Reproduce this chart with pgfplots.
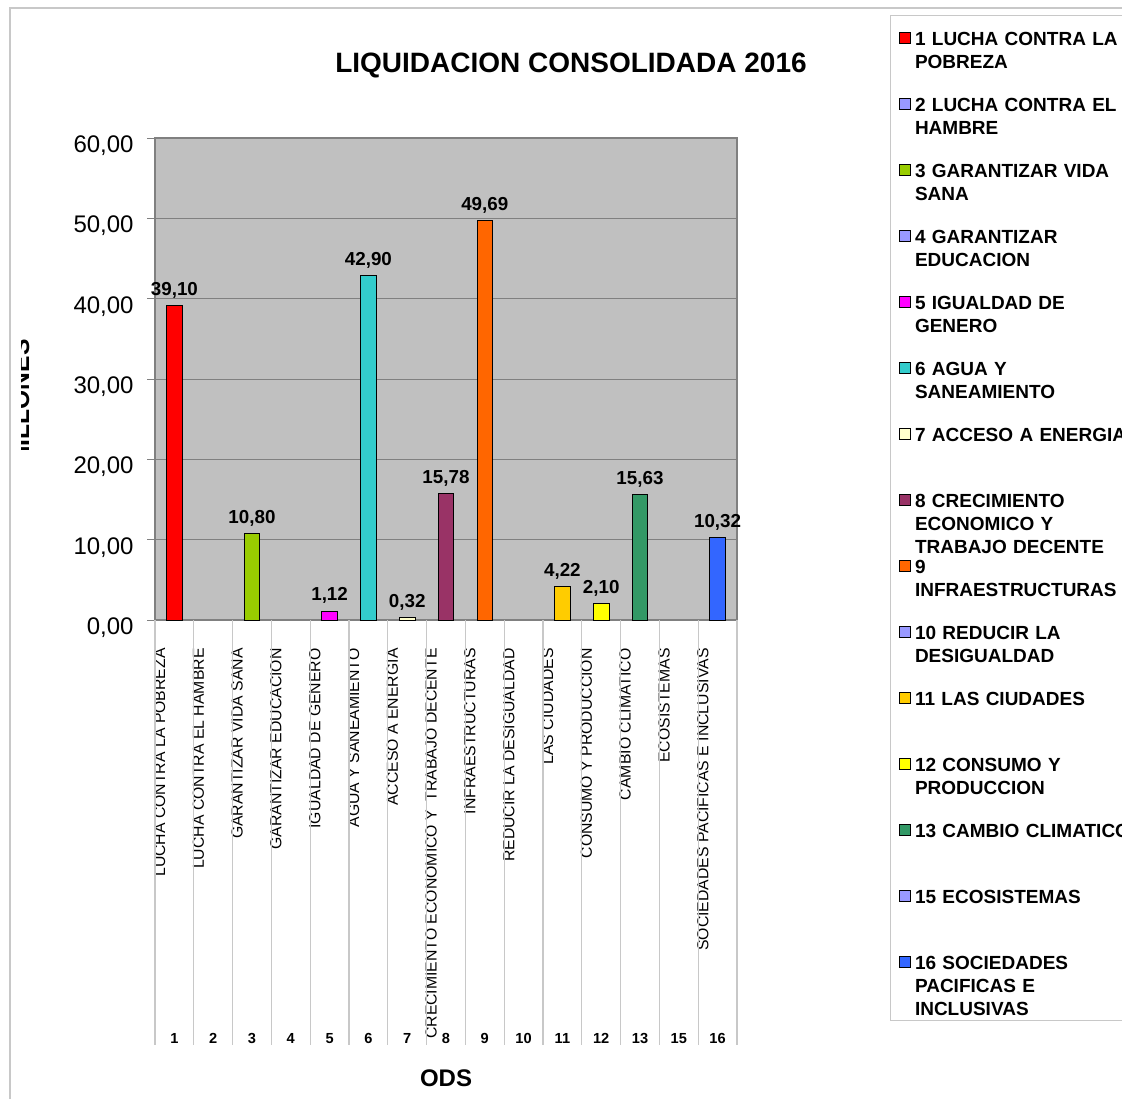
\documentclass[border=0pt]{standalone}
\usepackage{fontspec}
\setmainfont{Liberation Sans}
\usepackage{pgfplots}
\pgfplotsset{compat=1.18}
\pgfkeys{/pgf/number format/assume math mode=true}
\definecolor{c1}{HTML}{FF0000}
\definecolor{cz}{HTML}{9999FF}
\definecolor{c3}{HTML}{99CC00}
\definecolor{c5}{HTML}{FF00FF}
\definecolor{c6}{HTML}{33CCCC}
\definecolor{c7}{HTML}{FFFFCC}
\definecolor{c8}{HTML}{993366}
\definecolor{c9}{HTML}{FF6600}
\definecolor{c11}{HTML}{FFCC00}
\definecolor{c12}{HTML}{FFFF00}
\definecolor{c13}{HTML}{339966}
\definecolor{c16}{HTML}{3366FF}
\definecolor{bg}{HTML}{C0C0C0}
\definecolor{ax}{HTML}{808080}
\definecolor{sepc}{HTML}{C8C8C8}
\pgfplotsset{
  sq/.style={legend image code/.code={\draw[##1,draw=black,line width=0.5pt] (0pt,1pt) rectangle (5.5pt,6.5pt);}},
  b/.style={fill=#1, draw=black, line width=0.5pt, bar shift=0pt, sq},
}
\begin{document}
\begin{tikzpicture}[x=0.5pt,y=-0.5pt]
\useasboundingbox (0,0) rectangle (1122,1099);
\draw[sepc, line width=0.6pt] (10,1099) -- (10,8) -- (1122,8);
\node[anchor=base, inner sep=0pt, font=\bfseries\fontsize{14}{16}\selectfont] at (571,72) {LIQUIDACION CONSOLIDADA 2016};
\node[anchor=base, inner sep=0pt, font=\bfseries\fontsize{12}{14}\selectfont] at (446,1086) {ODS};
\begin{scope}
\clip (21,330) rectangle (40,449);
\node[rotate=90, anchor=base, inner sep=0pt, font=\bfseries\fontsize{12.3}{14}\selectfont] at (29,403) {MILLONES};
\end{scope}
\begin{axis}[
  at={(77.5pt,-310pt)}, anchor=south west,
  scale only axis, width=291pt, height=241pt,
  xmin=0.5, xmax=15.5, ymin=0, ymax=60,
  clip=false,
  axis background/.style={fill=bg},
  axis line style={ax, line width=0.6pt},
  ymajorgrids, major grid style={ax, line width=0.5pt},
  ytick={0,10,20,30,40,50,60},
  ytick align=outside, ytick pos=left, major tick length=4pt,
  ytick style={ax, line width=0.5pt},
  y tick label style={/pgf/number format/.cd, fixed, zerofill, precision=2, use comma, /tikz/.cd,
     font=\fontsize{12}{14}\selectfont, inner sep=0pt, xshift=-6.5pt, yshift=-3.8pt},
  xtick={0.62,1.62,2.62,3.62,4.62,5.62,6.62,7.62,8.62,9.62,10.62,11.62,12.62,13.62,14.62},
  xticklabels={LUCHA CONTRA LA POBREZA, LUCHA CONTRA EL HAMBRE, GARANTIZAR VIDA SANA,
    GARANTIZAR EDUCACION, IGUALDAD DE GENERO, AGUA Y SANEAMIENTO, ACCESO A ENERGIA,
    CRECIMIENTO ECONOMICO Y \ TRABAJO DECENTE, INFRAESTRUCTURAS, REDUCIR LA DESIGUALDAD,
    LAS CIUDADES, CONSUMO Y PRODUCCION, CAMBIO CLIMATICO, ECOSISTEMAS,
    SOCIEDADES PACIFICAS E INCLUSIVAS},
  xtick style={draw=none},
  x tick label style={rotate=90, anchor=east, inner sep=0pt, font=\fontsize{7.9}{9.6}\selectfont},
  xticklabel shift=10pt,
  ybar, bar width=7.8pt, bar shift=0pt,
  nodes near coords={\pgfmathprintnumber[fixed,zerofill,precision=2,use comma]{\pgfplotspointmeta}},
  every node near coord/.append style={font=\bfseries\fontsize{9.4}{11}\selectfont, black},
  legend style={at={(1.26289,1.25519)}, anchor=north west, draw=sepc, line width=0.6pt, fill=white,
    inner xsep=4pt, inner ysep=1.5pt, row sep=0pt, column sep=2.2pt,
    font=\bfseries\fontsize{9.5}{11.5}\selectfont,
    nodes={anchor=base west, align=left, text width=125pt, inner sep=0pt, text height=7pt, text depth=26pt}},
]
\pgfplotsinvokeforeach{0.5,1.5,2.5,3.5,4.5,5.5,6.5,7.5,8.5,9.5,10.5,11.5,12.5,13.5,14.5,15.5}{
  \draw[sepc, line width=0.6pt] (axis cs:#1,0) -- ++(0pt,-212.5pt);
}
\addplot[b=c1] coordinates {(1,39.10)};
\addlegendentry[text height=13.3pt]{1 LUCHA CONTRA LA\\POBREZA}
\addlegendimage{b=cz}
\addlegendentry{2 LUCHA CONTRA EL\\HAMBRE}
\addplot[b=c3] coordinates {(3,10.80)};
\addlegendentry{3 GARANTIZAR VIDA\\SANA}
\addlegendimage{b=cz}
\addlegendentry{4 GARANTIZAR\\EDUCACION}
\addplot[b=c5] coordinates {(5,1.12)};
\addlegendentry{5 IGUALDAD DE\\GENERO}
\addplot[b=c6] coordinates {(6,42.90)};
\addlegendentry{6 AGUA Y\\SANEAMIENTO}
\addplot[b=c7] coordinates {(7,0.32)};
\addlegendentry{7 ACCESO A ENERGIA}
\addplot[b=c8] coordinates {(8,15.78)};
\addlegendentry{8 CRECIMIENTO\\ECONOMICO Y\\TRABAJO DECENTE}
\addplot[b=c9] coordinates {(9,49.69)};
\addlegendentry{9\\INFRAESTRUCTURAS}
\addlegendimage{b=cz}
\addlegendentry{10 REDUCIR LA\\DESIGUALDAD}
\addplot[b=c11] coordinates {(11,4.22)};
\addlegendentry{11 LAS CIUDADES}
\addplot[b=c12] coordinates {(12,2.10)};
\addlegendentry{12 CONSUMO Y\\PRODUCCION}
\addplot[b=c13] coordinates {(13,15.63)};
\addlegendentry{13 CAMBIO CLIMATICO}
\addlegendimage{b=cz}
\addlegendentry{15 ECOSISTEMAS}
\addplot[b=c16] coordinates {(15,10.32)};
\addlegendentry[text depth=24pt]{16 SOCIEDADES\\PACIFICAS E\\INCLUSIVAS}
\end{axis}
\begin{axis}[
  at={(77.5pt,-310pt)}, anchor=south west,
  scale only axis, width=291pt, height=241pt,
  xmin=0.5, xmax=15.5, ymin=0, ymax=1,
  axis line style={draw=none}, ytick=\empty,
  xtick={1,2,3,4,5,6,7,8,9,10,11,12,13,14,15},
  xticklabels={1,2,3,4,5,6,7,8,9,10,11,12,13,15,16},
  xtick style={draw=none}, major tick length=0pt,
  x tick label style={anchor=base, inner sep=0pt, yshift=-211.5pt, font=\bfseries\fontsize{7.3}{8}\selectfont},
]
\end{axis}
\end{tikzpicture}
\end{document}
